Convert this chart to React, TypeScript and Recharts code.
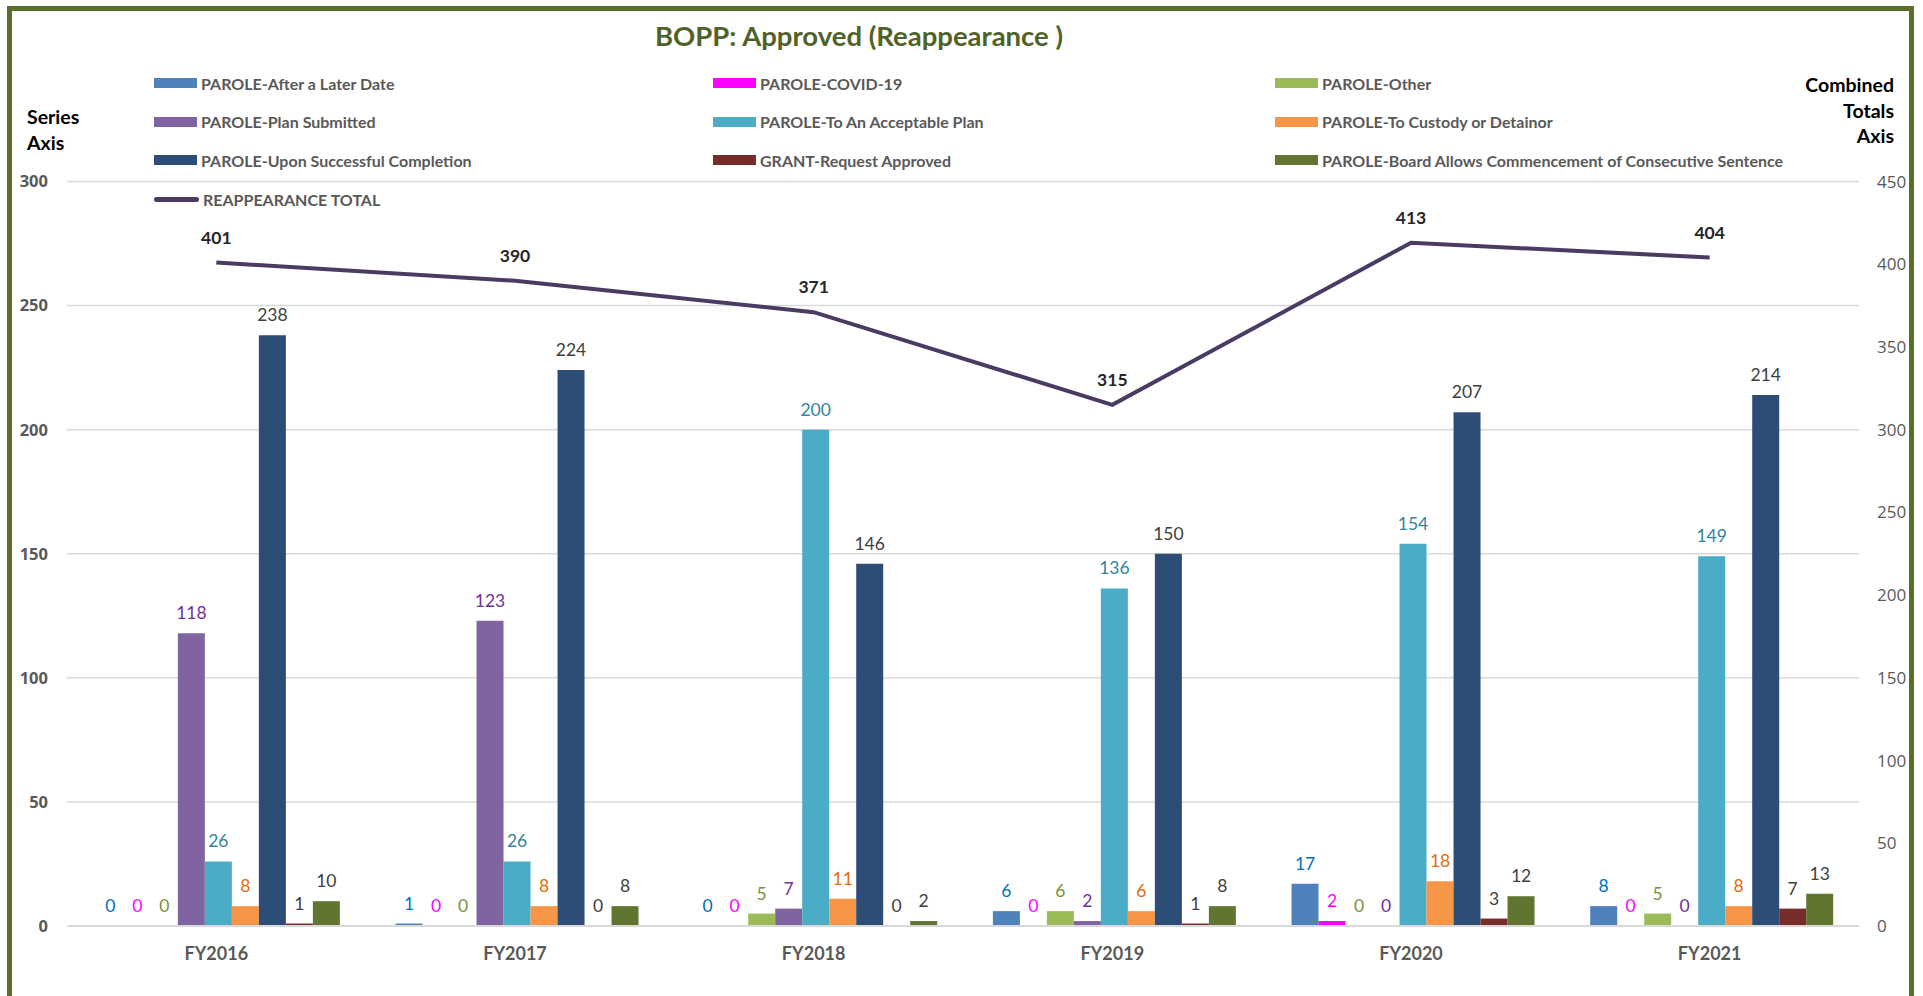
import React from 'react';
import { ComposedChart, Bar, Line, XAxis, YAxis, CartesianGrid, LabelList } from 'recharts';

const years = ['FY2016', 'FY2017', 'FY2018', 'FY2019', 'FY2020', 'FY2021'];

const afterLaterDate = [0, 1, 0, 6, 17, 8];
const covid19 = [0, 0, 0, 0, 2, 0];
const paroleOther = [0, 0, 5, 6, 0, 5];
const planSubmitted = [118, 123, 7, 2, 0, 0];
const acceptablePlan = [26, 26, 200, 136, 154, 149];
const custodyDetainor = [8, 8, 11, 6, 18, 8];
const successfulCompletion = [238, 224, 146, 150, 207, 214];
const grantApproved = [1, 0, 0, 1, 3, 7];
const consecutiveSentence = [10, 8, 2, 8, 12, 13];
const reappearanceTotal = [401, 390, 371, 315, 413, 404];

const seriesTicks = [0, 50, 100, 150, 200, 250, 300];
const totalsTicks = [0, 50, 100, 150, 200, 250, 300, 350, 400, 450];

// Calibri isn't available; Lato at ~90% size is a close stand-in
const BODY = 'Lato, "Noto Sans", sans-serif';
const TICKS = '"Open Sans", "Noto Sans", sans-serif';

const series = [
  { key: 'afterLaterDate', name: 'PAROLE-After a Later Date', values: afterLaterDate, fill: '#4f81bd', label: '#0070c0' },
  { key: 'covid19', name: 'PAROLE-COVID-19', values: covid19, fill: '#ff00ff', label: '#ff00ff' },
  { key: 'paroleOther', name: 'PAROLE-Other', values: paroleOther, fill: '#9bbb59', label: '#77933c' },
  { key: 'planSubmitted', name: 'PAROLE-Plan Submitted', values: planSubmitted, fill: '#8064a2', label: '#7030a0' },
  { key: 'acceptablePlan', name: 'PAROLE-To An Acceptable Plan', values: acceptablePlan, fill: '#4bacc6', label: '#31859c' },
  { key: 'custodyDetainor', name: 'PAROLE-To Custody or Detainor', values: custodyDetainor, fill: '#f79646', label: '#e46c0a' },
  { key: 'successfulCompletion', name: 'PAROLE-Upon Successful Completion', values: successfulCompletion, fill: '#2c4d75', label: '#404040' },
  { key: 'grantApproved', name: 'GRANT-Request Approved', values: grantApproved, fill: '#772c2a', label: '#404040' },
  { key: 'consecutiveSentence', name: 'PAROLE-Board Allows Commencement of Consecutive Sentence', values: consecutiveSentence, fill: '#5f7530', label: '#404040' },
];

const LINE_COLOR = '#4b3a63';

const data = years.map((year, i) => {
  const row: Record<string, string | number> = { year, total: reappearanceTotal[i] };
  series.forEach((s) => { row[s.key] = s.values[i]; });
  return row;
});

const legendItems = [
  ...series.map((s) => ({ name: s.name, color: s.fill, line: false })),
  { name: 'REAPPEARANCE TOTAL', color: LINE_COLOR, line: true },
];

// own label renderer so that zero-height bars still get their "0"
const barLabel = (color: string) => (props: any) => {
  const vb = props.viewBox || props;
  const x = Number(vb.x) + Number(vb.width) / 2;
  const top = Math.min(Number(vb.y), Number(vb.y) + Number(vb.height));
  return (
    <text x={x} y={top - 14} textAnchor="middle" fill={color} fontFamily={BODY} fontSize={17.5}>
      {props.value}
    </text>
  );
};

function ChartLegend() {
  const cols = [154, 713, 1275];
  return (
    <>
      {legendItems.map((item, i) => {
        const left = cols[i % 3];
        const cy = 83 + Math.floor(i / 3) * 38.7;
        return (
          <div key={item.name} style={{ position: 'absolute', left, top: cy - 12, height: 24, display: 'flex', alignItems: 'center', whiteSpace: 'nowrap' }}>
            {item.line ? (
              <span style={{ display: 'inline-block', width: 45, height: 5, borderRadius: 3, background: item.color }} />
            ) : (
              <span style={{ display: 'inline-block', width: 43, height: 10, background: item.color }} />
            )}
            <span style={{ marginLeft: 4, fontFamily: BODY, fontWeight: 'bold', fontSize: 16, color: '#595959' }}>{item.name}</span>
          </div>
        );
      })}
    </>
  );
}

export default function App() {
  return (
    <div style={{ position: 'absolute', left: 0, top: 0, width: 1923, height: 996, overflow: 'hidden', background: '#fff' }}>
      <div style={{ position: 'absolute', left: 0, top: 0 }}>
        <ComposedChart
          width={1923}
          height={996}
          data={data}
          margin={{ top: 181.5, right: 4, bottom: 30, left: 17 }}
          barCategoryGap="10%"
          barGap={0}
        >
          <CartesianGrid yAxisId="left" vertical={false} stroke="#d9d9d9" strokeWidth={1.5} />
          <XAxis
            dataKey="year"
            height={40}
            tickSize={0}
            tickMargin={21}
            axisLine={{ stroke: '#d9d9d9', strokeWidth: 2 }}
            tickLine={false}
            tick={{ fontFamily: BODY, fontWeight: 'bold', fontSize: 18, fill: '#595959' }}
          />
          <YAxis
            yAxisId="left"
            orientation="left"
            width={50}
            domain={[0, 300]}
            ticks={seriesTicks}
            axisLine={false}
            tickLine={false}
            tickSize={0}
            tickMargin={19}
            tick={{ fontFamily: TICKS, fontWeight: 'bold', fontSize: 16.5, fill: '#595959' }}
          />
          <YAxis
            yAxisId="right"
            orientation="right"
            width={60}
            domain={[0, 450]}
            ticks={totalsTicks}
            axisLine={false}
            tickLine={false}
            tickSize={0}
            tickMargin={18}
            tick={{ fontFamily: TICKS, fontSize: 17, fill: '#595959' }}
          />
          {series.map((s) => (
            <Bar
              key={s.key}
              yAxisId="left"
              dataKey={s.key}
              name={s.name}
              fill={s.fill}
              minPointSize={0.01}
              isAnimationActive={false}
            >
              <LabelList dataKey={s.key} content={barLabel(s.label)} />
            </Bar>
          ))}
          <Line
            yAxisId="right"
            type="linear"
            dataKey="total"
            name="REAPPEARANCE TOTAL"
            stroke={LINE_COLOR}
            strokeWidth={4}
            dot={false}
            isAnimationActive={false}
          >
            <LabelList dataKey="total" position="top" offset={19} fill="#262626" fontSize={17.5} fontWeight="bold" fontFamily={BODY} />
          </Line>
        </ComposedChart>
      </div>

      <div style={{ position: 'absolute', left: 0, width: 1718, top: 19, lineHeight: '34px', textAlign: 'center', fontFamily: BODY, fontWeight: 'bold', fontSize: 27.5, color: '#4f6228' }}>
        BOPP: Approved (Reappearance )
      </div>

      <ChartLegend />

      <div style={{ position: 'absolute', left: 27, top: 103.5, fontFamily: BODY, fontWeight: 'bold', fontSize: 19.5, lineHeight: '26px', color: '#000' }}>
        Series<br />Axis
      </div>
      <div style={{ position: 'absolute', right: 1923 - 1894, top: 72, textAlign: 'right', fontFamily: BODY, fontWeight: 'bold', fontSize: 19.5, lineHeight: '25.5px', color: '#000' }}>
        Combined<br />Totals<br />Axis
      </div>

      <div style={{ position: 'absolute', left: 1913, top: 0, width: 10, height: 996, background: '#fff' }} />
      <div style={{ position: 'absolute', left: 7, top: 6, width: 1907, height: 1010, border: '5px solid #5a6e2b', boxSizing: 'border-box', pointerEvents: 'none' }} />
    </div>
  );
}
